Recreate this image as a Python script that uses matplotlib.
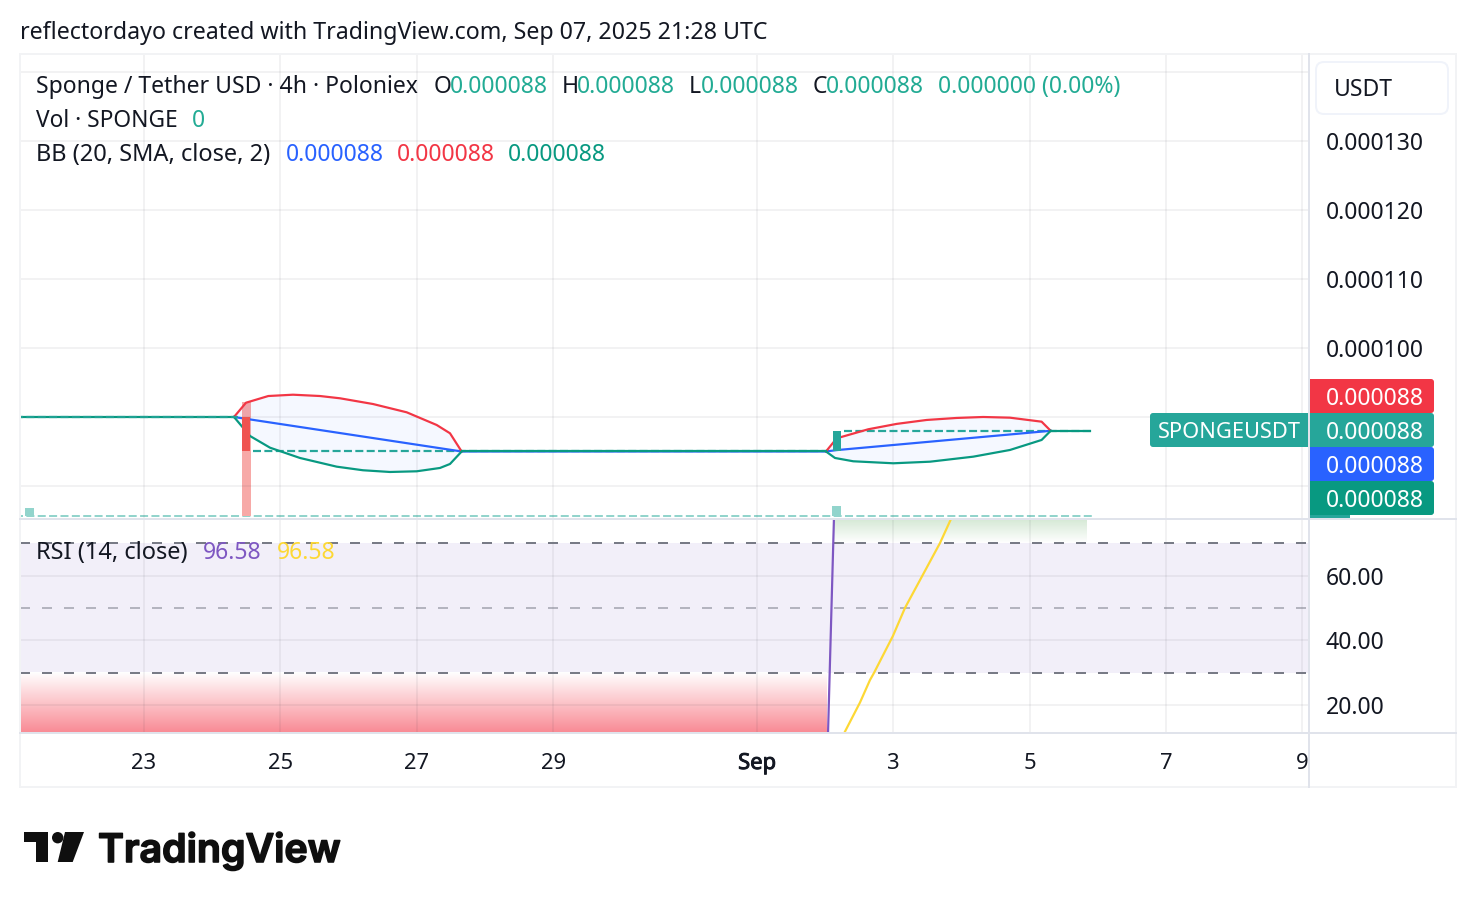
import numpy as np
import matplotlib
matplotlib.use("Agg")
import matplotlib.pyplot as plt
import matplotlib.patheffects as pe
from matplotlib.patches import Rectangle, FancyBboxPatch, Polygon, Circle

# ---- series, price in units of 1e-6 USDT, time in days counted along the axis ----
upper_a_t = [24.320, 24.496, 24.823, 25.185, 25.581, 25.874, 26.358, 26.852, 27.292, 27.487, 27.658]
upper_a_v = [90.0, 92.07, 93.04, 93.23, 93.04, 92.71, 91.88, 90.68, 88.84, 87.64, 85.0]
lower_a_t = [24.320, 24.554, 24.848, 25.287, 25.826, 26.211, 26.607, 26.999, 27.340, 27.487, 27.658]
lower_a_v = [90.0, 87.25, 85.55, 84.06, 82.80, 82.28, 82.03, 82.13, 82.61, 83.19, 85.0]
upper_b_t = [33.0, 33.157, 33.620, 34.037, 34.477, 34.916, 35.306, 35.698, 36.162, 36.295]
upper_b_v = [85.0, 86.91, 88.22, 89.0, 89.57, 89.86, 90.0, 89.9, 89.32, 88.0]
lower_b_t = [33.0, 33.132, 33.400, 33.987, 34.525, 35.160, 35.698, 36.162, 36.295]
lower_b_v = [85.0, 84.06, 83.58, 83.29, 83.52, 84.25, 85.22, 86.67, 88.0]
flat_segments = [(21.0, 24.320, 90.0), (27.658, 33.0, 85.0), (36.295, 36.871, 88.0)]
basis_t = [24.320, 27.658, 33.0, 33.157, 36.295]
basis_v = [90.0, 85.0, 85.0, 85.2, 88.0]

doji_segments = [(21.103, 24.378, 90.0), (24.604, 33.04, 85.0), (33.27, 36.88, 88.0)]
candle_t = [24.496, 33.161]
candle_open = [90.0, 85.0]
candle_close = [85.0, 88.0]
candle_colors = ["#EF5350", "#26A69A"]

volume_t = [21.328, 24.496, 33.161]
volume_v = [1190, 16000, 1470]
volume_colors = ["#92D4CC", "#F7A9A7", "#92D4CC"]
volume_line_t = [21.103, 36.90]
volume_line_v = [0, 0]

rsi_t = [21.182, 33.015, 33.142, 36.88]
rsi_v = [0.0, 0.0, 96.58, 96.58]
rsi_ma_t = [33.147, 33.268, 33.499, 33.645, 33.704, 33.982, 34.158, 34.672, 34.833, 35.302, 36.88]
rsi_ma_v = [6.9, 11.5, 20.9, 27.8, 30.0, 41.4, 50.0, 70.0, 77.4, 96.58, 96.58]

date_ticks = [23, 25, 27, 29, 31.99, 33.99, 35.99, 37.99, 39.98]
date_labels = ["23", "25", "27", "29", "Sep", "3", "5", "7", "9"]
price_ticks = [80, 90, 100, 110, 120, 130, 140]
price_labels = ["", "", "0.000100", "0.000110", "0.000120", "0.000130", ""]
rsi_ticks = [20, 40, 60]
rsi_labels = ["20.00", "40.00", "60.00"]

# ---- palette and figure geometry ----
TEXT = "#131722"
TEAL = "#26A69A"
RED = "#F23645"
BLUE = "#2962FF"
GREEN = "#089981"
PURPLE = "#7E57C2"
YELLOW = "#FDD835"
GRID = "#2A2E39"
GRID_ALPHA = 0.06
FRAME = "#E0E3EB"
W, H = 1476, 908
PX = 0.72  # points per pixel at 100 dpi
LINE = 2.2 * PX

plt.rcParams["font.family"] = "Noto Sans"
plt.rcParams["lines.scale_dashes"] = False
plt.rcParams["font.size"] = 23 * PX


def frame(x0, y0, x1, y1):
    return [x0 / W, 1 - y1 / H, (x1 - x0) / W, (y1 - y0) / H]


def dash(on, off):
    return (0, (on * PX, off * PX))


fig = plt.figure(figsize=(W / 100, H / 100), dpi=100, facecolor="white")
XLIM = (21.182, 40.068)

# volume sits underneath the price panel
ax_vol = fig.add_axes(frame(20, 54, 1308, 518), zorder=1)
ax_vol.set_xlim(XLIM)
ax_vol.set_ylim(-210, 64600)
ax_vol.axis("off")
ax_vol.plot(volume_line_t, volume_line_v, color="#92D4CC", lw=2 * PX, ls=dash(8, 3.37))
ax_vol.bar(volume_t, volume_v, width=0.132, color=volume_colors, zorder=3)

# price panel
ax = fig.add_axes(frame(20, 54, 1308, 518), zorder=2)
ax.patch.set_visible(False)
ax.set_xlim(XLIM)
ax.set_ylim(75.36, 142.61)
for side in ax.spines.values():
    side.set_visible(False)
ax.set_xticks(date_ticks)
ax.tick_params(axis="x", length=0, labelbottom=False)
ax.yaxis.tick_right()
ax.set_yticks(price_ticks, price_labels)
ax.tick_params(axis="y", length=0, pad=18 * PX, labelcolor=TEXT, labelsize=23 * PX)
ax.grid(True, color=GRID, alpha=GRID_ALPHA, lw=2 * PX)

for ut, uv, lt, lv in [(upper_a_t, upper_a_v, lower_a_t, lower_a_v),
                       (upper_b_t, upper_b_v, lower_b_t, lower_b_v)]:
    ax.fill(ut + lt[::-1], uv + lv[::-1], color=BLUE, alpha=0.045, lw=0, zorder=2)

for start, stop, level in doji_segments:
    ax.plot([start, stop], [level, level], color=TEAL, lw=2.2 * PX, ls=dash(8, 3.37), zorder=3)
ax.plot(basis_t, basis_v, color=BLUE, lw=LINE, zorder=4)
ax.plot(upper_a_t, upper_a_v, color=RED, lw=LINE, zorder=5)
ax.plot(upper_b_t, upper_b_v, color=RED, lw=LINE, zorder=5)
ax.plot(lower_a_t, lower_a_v, color=GREEN, lw=LINE, zorder=6)
ax.plot(lower_b_t, lower_b_v, color=GREEN, lw=LINE, zorder=6)
for start, stop, level in flat_segments:
    ax.plot([start, stop], [level, level], color=GREEN, lw=LINE, zorder=6)
ax.plot([21.103, 24.378], [90.0, 90.0], color=TEAL, lw=1.5 * PX, ls=dash(8, 3.37), zorder=7)
for t, o, c, col in zip(candle_t, candle_open, candle_close, candle_colors):
    ax.bar(t, abs(c - o), bottom=min(o, c), width=0.117, color=col, zorder=8)

# RSI panel
ax_rsi = fig.add_axes(frame(20, 519, 1308, 733), zorder=2)
ax_rsi.set_xlim(XLIM)
RSI_LOW, RSI_HIGH = 11.5, 77.4
ax_rsi.set_ylim(RSI_LOW, RSI_HIGH)
for side in ax_rsi.spines.values():
    side.set_visible(False)
ax_rsi.axhspan(30, 70, color=PURPLE, alpha=0.095, lw=0, zorder=0.5)


def vertical_gradient(axes, t0, t1, v0, v1, bottom_rgb, top_rgb):
    ramp = np.linspace(0, 1, 128)[:, None, None]
    colors = np.array(bottom_rgb)[None, None, :] * (1 - ramp) + np.array(top_rgb)[None, None, :] * ramp
    axes.imshow(colors, extent=(t0, t1, v0, v1), origin="lower", aspect="auto",
                interpolation="bilinear", zorder=0.6)


vertical_gradient(ax_rsi, 21.182, 33.015, RSI_LOW, 30, (0.976, 0.54, 0.58), (1, 1, 1))
vertical_gradient(ax_rsi, 33.118, 36.827, 70, RSI_HIGH, (1, 1, 1), (0.83, 0.91, 0.83))
ax_rsi.set_xlim(XLIM)
ax_rsi.set_ylim(RSI_LOW, RSI_HIGH)

ax_rsi.set_xticks(date_ticks, date_labels)
ax_rsi.tick_params(axis="x", length=0, pad=20 * PX, labelcolor=TEXT, labelsize=22 * PX)
ax_rsi.yaxis.tick_right()
ax_rsi.set_yticks(rsi_ticks, rsi_labels)
ax_rsi.tick_params(axis="y", length=0, pad=18 * PX, labelcolor=TEXT, labelsize=23 * PX)
ax_rsi.grid(True, color=GRID, alpha=GRID_ALPHA, lw=2 * PX)
# the month boundary is emphasised with a thin outline around the glyphs
for tick_text, name in zip(ax_rsi.get_xticklabels(), date_labels):
    if name == "Sep":
        tick_text.set_path_effects([pe.withStroke(linewidth=0.9 * PX, foreground=TEXT)])

for level, alpha in [(70, 1.0), (50, 0.5), (30, 1.0)]:
    ax_rsi.plot(XLIM, [level, level], color="#787B86", alpha=alpha, lw=2 * PX, ls=dash(10, 12), zorder=1.8)
ax_rsi.plot(rsi_ma_t, rsi_ma_v, color=YELLOW, lw=LINE, zorder=3)
ax_rsi.plot(rsi_t, rsi_v, color=PURPLE, lw=LINE, zorder=4)

# window furniture in pixel coordinates
ui = fig.add_axes([0, 0, 1, 1], zorder=5)
ui.set_xlim(0, W)
ui.set_ylim(H, 0)
ui.axis("off")
ui.patch.set_visible(False)

ui.add_patch(Rectangle((20, 54), 1436, 733, fill=False, ec="#F2F3F5", lw=2 * PX))
ui.plot([20, 1456], [518.5, 518.5], color=FRAME, lw=2 * PX)
ui.plot([20, 1456], [733, 733], color=FRAME, lw=2 * PX)
ui.plot([1309, 1309], [54, 787], color=FRAME, lw=2 * PX)


def label(x, y, s, color=TEXT, size=23, **kw):
    ui.text(x, y, s, color=color, fontsize=size * PX, va="center_baseline", ha=kw.pop("ha", "left"), **kw)


label(20, 30, "reflectordayo created with TradingView.com, Sep 07, 2025 21:28 UTC", size=23.2)

VALUE = "#22AB94"
for x, s, col in [(36, "Sponge / Tether USD · 4h · Poloniex", TEXT),
                  (434, "O", TEXT), (450, "0.000088", VALUE),
                  (562, "H", TEXT), (577, "0.000088", VALUE),
                  (689, "L", TEXT), (701, "0.000088", VALUE),
                  (813, "C", TEXT), (826, "0.000088", VALUE),
                  (938, "0.000000 (0.00%)", VALUE)]:
    label(x, 84, s, col)
label(36, 118, "Vol · SPONGE", size=22.7)
label(192, 118, "0", VALUE)
for x, s, col, size in [(36, "BB (20, SMA, close, 2)", TEXT, 23.6), (286, "0.000088", BLUE, 23),
                        (397, "0.000088", RED, 23), (508, "0.000088", GREEN, 23)]:
    label(x, 152, s, col, size=size)
for x, s, col, size in [(36, "RSI (14, close)", TEXT, 23.6), (203, "96.58", PURPLE, 23), (277, "96.58", YELLOW, 23)]:
    label(x, 550, s, col, size=size)

ui.add_patch(FancyBboxPatch((1316, 62), 132, 52, boxstyle="round,pad=0,rounding_size=8",
                            fc="white", ec="#F0F3FA", lw=2 * PX))
label(1334, 87, "USDT")


def price_tag(y, color, text="0.000088"):
    ui.add_patch(FancyBboxPatch((1310, y), 124, 34, boxstyle="round,pad=0,rounding_size=3", fc=color, ec="none"))
    ui.add_patch(Rectangle((1310, y), 20, 34, fc=color, ec="none"))
    label(1326, y + 17, text, "white")


ui.add_patch(Rectangle((1310, 515), 40, 3, fc=TEAL, ec="none"))
for y, col in [(379, RED), (413, TEAL), (447, BLUE), (481, GREEN)]:
    price_tag(y, col)
ui.add_patch(FancyBboxPatch((1150, 413), 158, 34, boxstyle="round,pad=0,rounding_size=3", fc=TEAL, ec="none"))
ui.add_patch(Rectangle((1290, 413), 18, 34, fc=TEAL, ec="none"))
label(1158, 430, "SPONGEUSDT", "white", size=21.8)

# wordmark at the foot of the page
INK = "#0F0F0F"
ui.add_patch(Polygon([(24, 832), (48.3, 832), (48.3, 862), (36, 862), (36, 842), (24, 842)], fc=INK, ec="none"))
ui.add_patch(Circle((57.7, 837.7), 5.7, fc=INK, ec="none"))
ui.add_patch(Polygon([(65, 832), (84, 832), (72.7, 862), (57.7, 862)], fc=INK, ec="none"))
ui.text(98, 862, "TradingView", color=INK, family="Inter", fontweight="semibold",
        fontsize=39.3 * PX, va="baseline", ha="left",
        path_effects=[pe.withStroke(linewidth=1.6 * PX, foreground=INK)])

fig.savefig("out.png", dpi=100, facecolor="white")
